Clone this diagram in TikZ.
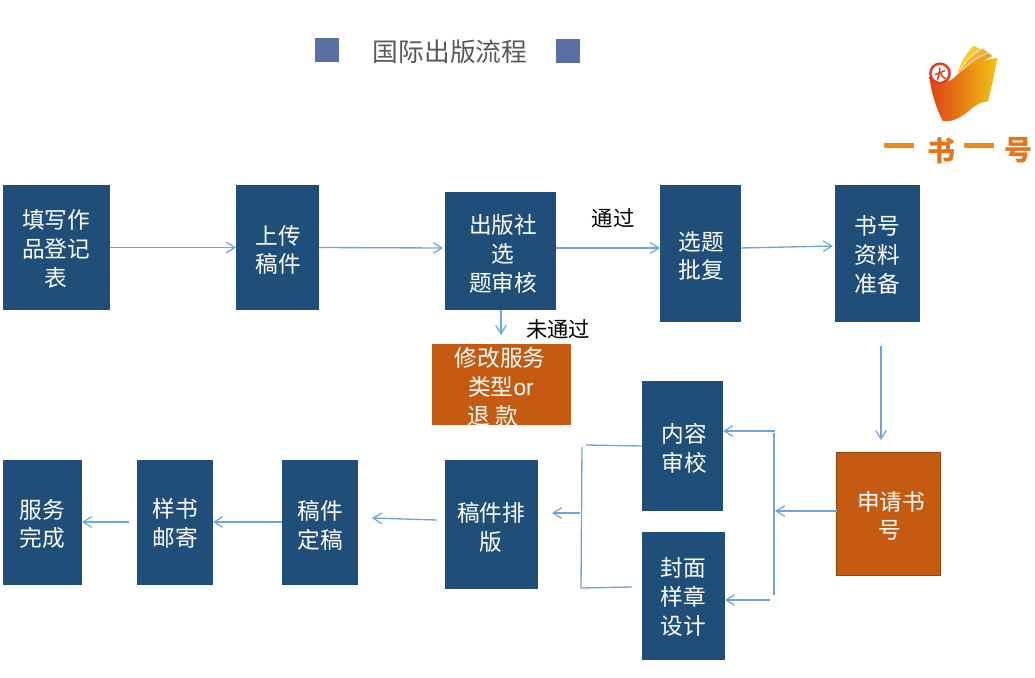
\documentclass[tikz,border=0pt]{standalone}
\usepackage{fontspec}
\setmainfont{Noto Sans CJK SC}
\newfontfamily\latinf{Liberation Sans}
\usetikzlibrary{arrows.meta,calc}
\definecolor{boxblue}{HTML}{1F4E79}
\definecolor{boxorange}{HTML}{C55A11}
\definecolor{linkblue}{HTML}{6FA5DC}
\definecolor{squareblue}{HTML}{5B6FA3}
\definecolor{logored}{HTML}{DE3F18}
\definecolor{logoyel}{HTML}{F2C411}
\definecolor{logoora}{HTML}{E98A1A}
\definecolor{logopage}{HTML}{EFB04A}
\newcommand{\boxat}[6]{%name,x1,y1,x2,y2,style
  \pgfmathsetmacro{\bw}{(#4-#2)*0.75}\pgfmathsetmacro{\bh}{(#5-#3)*0.75}
  \node[#6,minimum width=\bw pt,minimum height=\bh pt] (#1) at ({(#2+#4)/2},{(#3+#5)/2}) {};}
\tikzset{
  x=0.75pt,y=-0.75pt,
  boxbase/.style={inner sep=0pt,outer sep=0pt,draw=none},
  bluebox/.style={boxbase,fill=boxblue},
  orangebox/.style={boxbase,fill=boxorange},
  edgebox/.style={boxbase,fill=boxorange,draw=boxorange!75!black,line width=.7pt},
  boxtext/.style={text=white,align=center,inner sep=0pt,font=\fontsize{17}{21.6}\selectfont},
  notetext/.style={text=black,align=center,inner sep=0pt,font=\fontsize{16}{20}\selectfont},
  link/.style={draw=linkblue,line width=1pt},
  arr/.style={link,-{Straight Barb[length=6.5pt,width=8pt,line width=.9pt]}},
  pagefan/.style={draw=white,line width=.35pt},
  markone/.style={inner sep=0pt,font=\fontsize{24}{26}\bfseries\selectfont,text=logoora},
  marktwo/.style={inner sep=0pt,font=\fontsize{21}{26}\bfseries\selectfont,text=logoora!70!logored},
}
\begin{document}
\begin{tikzpicture}
\useasboundingbox (0,0) rectangle (1035,678);
\fill[white] (0,0) rectangle (1035,678);
% title
\fill[squareblue] (315,38) rectangle (339,62);
\fill[squareblue] (556,39) rectangle (580,63);
\node[inner sep=0pt,text=black!65,font=\fontsize{19.3}{22}\selectfont] (title) at (450,52) {国际出版流程};
% boxes
\boxat{a}{3}{185}{110}{310}{bluebox}
\boxat{b}{236}{185}{319}{310}{bluebox}
\boxat{c}{445}{192}{556}{310}{bluebox}
\boxat{d}{660}{185}{741}{322}{bluebox}
\boxat{e}{835}{185}{920}{322}{bluebox}
\boxat{f}{432}{344}{571}{425}{orangebox}
\boxat{g}{642}{381}{723}{511}{bluebox}
\boxat{h}{642}{532}{725}{660}{bluebox}
\boxat{i}{836.5}{452.5}{940.5}{575.5}{edgebox}
\boxat{j}{445}{460}{538}{589}{bluebox}
\boxat{k}{282}{460}{358}{585}{bluebox}
\boxat{l}{137}{460}{213}{585}{bluebox}
\boxat{m}{3}{460}{82}{585}{bluebox}
% texts
\node[boxtext] (ta) at (56,249) {填写作\\品登记\\表};
\node[boxtext] (tb) at (278,250) {上传\\稿件};
\node[boxtext] (tc) at (503,254) {出版社\\选\\题审核};
\node[boxtext] (td) at (701,256) {选题\\批复};
\node[boxtext] (te) at (877,255) {书号\\资料\\准备};
\node[boxtext] (tf1) at (500,358) {修改服务};
\node[boxtext] (tf2) at (501,387) {类型{\latinf or}};
\node[boxtext] (tf3) at (493,416) {退 款};
\node[boxtext] (tg) at (684,448) {内容\\审校};
\node[boxtext] (th) at (683,597) {封面\\样章\\设计};
\node[boxtext] (ti1) at (891,502) {申请书};
\node[boxtext] (ti2) at (890,530) {号};
\node[boxtext] (tj) at (491,527) {稿件排\\版};
\node[boxtext] (tk) at (320,525) {稿件\\定稿};
\node[boxtext] (tl) at (175,523) {样书\\邮寄};
\node[boxtext] (tm) at (42,524) {服务\\完成};
\node[notetext] (pass) at (613,218) {通过};
\node[notetext] (fail) at (558,329) {未通过};
% free ends
\coordinate (bc) at (0,248);
\coordinate (bc2) at (443,248);
\coordinate (de1) at (741,248);
\coordinate (de2) at (833,246);
\coordinate (cf) at (501,335);
\coordinate (ei1) at (881,346);
\coordinate (ei2) at (881,440);
\coordinate (iv) at (775,511);
\coordinate (vt) at (774,433);
\coordinate (vb) at (774,595);
\coordinate (gi) at (775,431);
\coordinate (hi) at (770,600);
\coordinate (gy) at (0,446);
\coordinate (gl) at (586,445);
\coordinate (lt) at (582,447);
\coordinate (lb) at (581,588);
\coordinate (hl) at (632,587);
\coordinate (lm) at (580,513);
\coordinate (la) at (552,513);
\coordinate (jk1) at (437,520);
\coordinate (jk2) at (372,518);
\coordinate (ky) at (0,522);
\coordinate (lm1) at (129,522);
% connectors
\draw[arr] (a.east) -- (b.west);
\draw[arr] (b.east) -- (bc2);
\draw[arr] (c.east |- bc) -- (d.west |- bc);
\draw[arr] (de1) -- (de2);
\draw[arr] (c.south -| cf) -- (cf);
\draw[arr] (ei1) -- (ei2);
\draw[arr] (i.west |- iv) -- (iv);
\draw[link] (vt) -- (vb);
\draw[arr] (gi) -- (g.east |- gi);
\draw[arr] (hi) -- (h.east |- hi);
\draw[link] (g.west |- gy) -- (gl);
\draw[link] (lt) -- (lb) -- (hl);
\draw[arr] (lm) -- (la);
\draw[arr] (jk1) -- (jk2);
\draw[arr] (k.west |- ky) -- (l.east |- ky);
\draw[arr] (lm1) -- (m.east |- lm1);
% logo
\begin{scope}[shift={(860,30)},x=0.25pt,y=-0.25pt]
  % fanned pages
  \fill[logopage!60!yellow,pagefan] (292,125) .. controls (305,90) and (322,62) .. (342,46) -- (372,62) -- (310,128) -- cycle;
  \fill[logopage,pagefan] (294,128) .. controls (315,92) and (342,70) .. (368,54) -- (386,68) -- (315,128) -- cycle;
  \fill[logoora!80!yellow,pagefan] (296,132) .. controls (322,100) and (355,80) .. (386,68) -- (398,78) -- (320,124) -- cycle;
  % body
  \shade[left color=logored,right color=logoyel]
    (208,140) .. controls (212,180) and (230,240) .. (248,272)
    .. controls (275,280) and (310,258) .. (332,238)
    .. controls (350,222) and (368,215) .. (384,214)
    .. controls (395,170) and (405,125) .. (412,84)
    .. controls (370,90) and (325,105) .. (290,135)
    .. controls (280,150) and (262,158) .. (240,156)
    -- cycle;
  % seal
  \fill[white] (240,130) circle (30);
  \draw[logored,line width=1.8pt] (240,130) circle (29);
  \draw[logored,line width=1.1pt,line cap=round] (226,134) -- (254,122) (240,114) .. controls (238,128) and (236,140) .. (232,150) (242,130) .. controls (246,138) and (250,144) .. (256,146);
  % wordmark
  \node[markone] (wm1) at (117,362) {一};
  \node[marktwo] (wm2) at (244,362) {书};
  \node[markone] (wm3) at (358,362) {一};
  \node[marktwo] (wm4) at (475,362) {号};
\end{scope}
\end{tikzpicture}
\end{document}
